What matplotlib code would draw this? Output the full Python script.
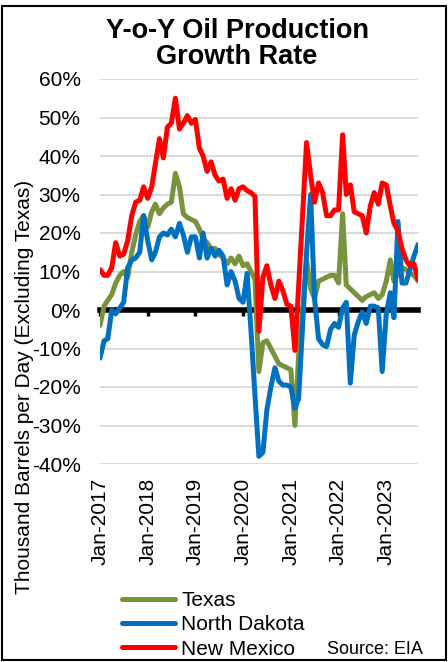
import pandas as pd
import matplotlib.pyplot as plt
import matplotlib.dates as mdates
from matplotlib.patches import Rectangle

plt.rcParams['font.family'] = ['Liberation Sans', 'DejaVu Sans']

# monthly y-o-y growth (%), Jan-2017 .. Sep-2023
months = pd.date_range('2017-01-01', '2023-09-01', freq='MS')

texas = [-4, 1, 2.5, 4, 7, 9, 10, 8.5, 15, 19.5,
         23, 24.5, 21.5, 25.5, 27.5, 25, 26.5, 27.5, 28, 35.5,
         32, 25, 24, 23.5, 23, 21, 18.5, 17.5, 16, 16,
         14.5, 13.5, 12, 13.5, 12, 14, 11.5, 12, 10, 8,
         -16, -8.5, -8, -10, -12, -14, -14.5, -15, -15.5, -30,
         -12, 0, 13, 5.5, 3, 7.5, 8, 8.5, 9, 9,
         7, 25, 6.5, 5.5, 4.5, 3.5, 2.5, 3.5, 4, 4.5,
         3, 4, 7.5, 13, 7.5, 9.5, 11, 10.5, 9.5, 9,
         7.5]

north_dakota = [-12.5, -8, -7.5, 0, -1, 0.5, 2, 11, 13, 13.5,
                15, 24.5, 18, 13, 15, 19, 20, 19.5, 21, 19,
                22.5, 19.5, 15, 19, 19, 13.5, 20, 13.5, 16, 14,
                15.5, 14, 6.5, 10, 7.5, 3, 2, 9.5, -5, -22,
                -38, -37, -26, -20, -15, -18.5, -19.5, -19.5, -20, -25.5,
                -23, -4, 15, 30, 3, -7.5, -9, -9.5, -5, -3.5,
                -4.5, 0.5, 2, -19, -6.5, -3, -0.5, -3.5, 1, 1,
                0.5, -16, -1, 4.5, -2, 23, 7, 7, 10.5, 14,
                17]

new_mexico = [10.5, 9, 9, 11, 17.5, 14, 14.5, 18, 24.5, 28,
              28.5, 32, 29, 32, 38, 44.5, 39.5, 47.5, 48.5, 55,
              47, 48.5, 50.5, 48.5, 49.5, 42, 40, 36, 38.5, 35,
              33.5, 34, 29, 31.5, 28.5, 31.5, 32, 31, 30.5, 29.5,
              -5.5, 8.5, 11.5, 6.5, 3, 7.5, 5, 1.5, 1, -10.5,
              6, 25, 43.5, 35, 28, 33, 30.5, 24.5, 24.5, 26,
              26, 45.5, 30, 32.5, 25.5, 25, 24.5, 20, 27, 30.5,
              27.5, 33, 32.5, 27, 22.5, 20.5, 16, 13, 11.5, 12,
              8]

series = [('Texas', texas, '#77933C'),
          ('North Dakota', north_dakota, '#0070C0'),
          ('New Mexico', new_mexico, '#FF0000')]

W, H = 448, 662
fig = plt.figure(figsize=(W / 100, H / 100), dpi=100)
ax = fig.add_axes([100 / W, (H - 464) / H, 318 / W, 385 / H])

for name, vals, col in series:
    ax.plot(months, vals, color=col, lw=3.6, label=name,
            solid_capstyle='round', solid_joinstyle='round', zorder=3)

ax.set_ylim(-40, 60)
ax.set_xlim(months[0], months[-1])
ax.set_yticks(range(-40, 61, 10))
ax.set_yticklabels([f'{v}%' for v in range(-40, 61, 10)])
ax.grid(axis='y', color='#D9D9D9', lw=1.4)
ax.grid(axis='x', visible=False)
ax.set_axisbelow(True)
for s in ax.spines.values():
    s.set_visible(False)

jan_ticks = pd.date_range('2017-01-01', '2023-01-01', freq='YS')
ax.set_xticks(jan_ticks)
ax.xaxis.set_major_formatter(mdates.DateFormatter('%b-%Y'))
ax.tick_params(axis='x', length=0, pad=10, labelsize=15, labelrotation=90)
ax.tick_params(axis='y', length=0, pad=14, labelsize=15)

# thick zero line with small year ticks (Excel horizontal axis)
sec = ax.secondary_xaxis(0.4)
sec.set_xticks(jan_ticks)
sec.tick_params(axis='x', length=4, width=2.5, color='black', labelbottom=False)
sec.spines['bottom'].set_linewidth(4)
sec.spines['bottom'].set_color('black')
sec.set_zorder(2)

ax.set_ylabel('Thousand Barrels per Day (Excluding Texas)', fontsize=15, va='center')
ax.yaxis.set_label_coords((25 - 100) / 318, (464 - 387) / 385)

fig.text(237 / W, 1 - 44 / H, 'Y-o-Y Oil Production\nGrowth Rate', ha='center', va='center',
         fontsize=19.5, fontweight='bold', linespacing=0.95)

handles, labels = ax.get_legend_handles_labels()
fig.legend(handles, labels, loc='center left', bbox_to_anchor=(122 / W, 1 - 625 / H),
           frameon=False, fontsize=15, handlelength=2.55, handletextpad=0.3,
           labelspacing=0.25, borderpad=0, borderaxespad=0)

fig.text(423 / W, 1 - 650 / H, 'Source: EIA', ha='right', va='center', fontsize=13)

fig.patches.append(Rectangle((2 / W, 2 / H), 444 / W, 654 / H, transform=fig.transFigure,
                             fill=False, edgecolor='black', lw=1.5))

fig.savefig('out.png', dpi=100)
